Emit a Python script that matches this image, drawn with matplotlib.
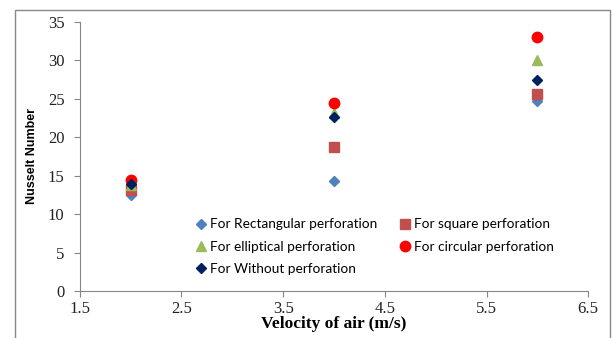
import matplotlib.pyplot as plt
from matplotlib.patches import Rectangle

velocity = [2, 4, 6]
rectangular = [12.5, 14.3, 24.7]
square = [13.2, 18.8, 25.6]
elliptical = [13.8, 23.2, 30.0]
circular = [14.5, 24.4, 33.0]
without = [13.9, 22.6, 27.5]

series = [
    ("For Rectangular perforation", rectangular, "D", "#4F81BD", 5),
    ("For square perforation", square, "s", "#C0504D", 7),
    ("For elliptical perforation", elliptical, "^", "#9BBB59", 7.5),
    ("For circular perforation", circular, "o", "#FF0000", 7.5),
    ("For Without perforation", without, "D", "#002060", 5),
]

fig = plt.figure(figsize=(6.14, 3.38), dpi=100)
fig.patches.append(Rectangle((15 / 614, -0.1), 595 / 614, 1.1 - 10 / 338,
                             transform=fig.transFigure, fill=False,
                             edgecolor="#888888", linewidth=1.0))
ax = fig.add_axes([0.130, 0.139, 0.828, 0.796])

handles = {}
for label, vals, marker, color, size in series:
    h, = ax.plot(velocity, vals, linestyle="none", marker=marker, color=color,
                 markersize=size, label=label)
    handles[label] = h

ax.set_xlim(1.5, 6.5)
ax.set_ylim(0, 35)
ax.set_xticks([1.5, 2.5, 3.5, 4.5, 5.5, 6.5])
ax.set_xticklabels(["1.5", "2.5", "3.5", "4.5", "5.5", "6.5"])
ax.set_yticks(range(0, 36, 5))
for s in ["top", "right"]:
    ax.spines[s].set_visible(False)
for s in ["left", "bottom"]:
    ax.spines[s].set_color("#868686")
ax.tick_params(colors="#868686", length=4, labelcolor="#222222")
ax.tick_params(axis="y", pad=7)
for t in ax.get_xticklabels() + ax.get_yticklabels():
    t.set_fontfamily("Liberation Serif")
    t.set_fontsize(12)

ax.set_ylabel("Nusselt Number", fontfamily="Liberation Sans", fontweight="bold",
              fontsize=9, labelpad=7)
ax.set_xlabel("Velocity of air (m/s)", fontfamily="Liberation Serif",
              fontweight="bold", fontsize=12.5, labelpad=-1)

# ncol=2 fills by column, so order the entries to read row by row
order = ["For Rectangular perforation", "For elliptical perforation",
         "For Without perforation", "For square perforation",
         "For circular perforation"]
ax.legend([handles[k] for k in order], order, loc="upper left",
          bbox_to_anchor=(0.215, 0.29), ncol=2, frameon=False,
          prop={"family": "Lato", "size": 9.8}, handletextpad=0.1,
          handlelength=1.0, columnspacing=1.6, labelspacing=0.75,
          borderaxespad=0)

fig.savefig("out.png", dpi=100)
